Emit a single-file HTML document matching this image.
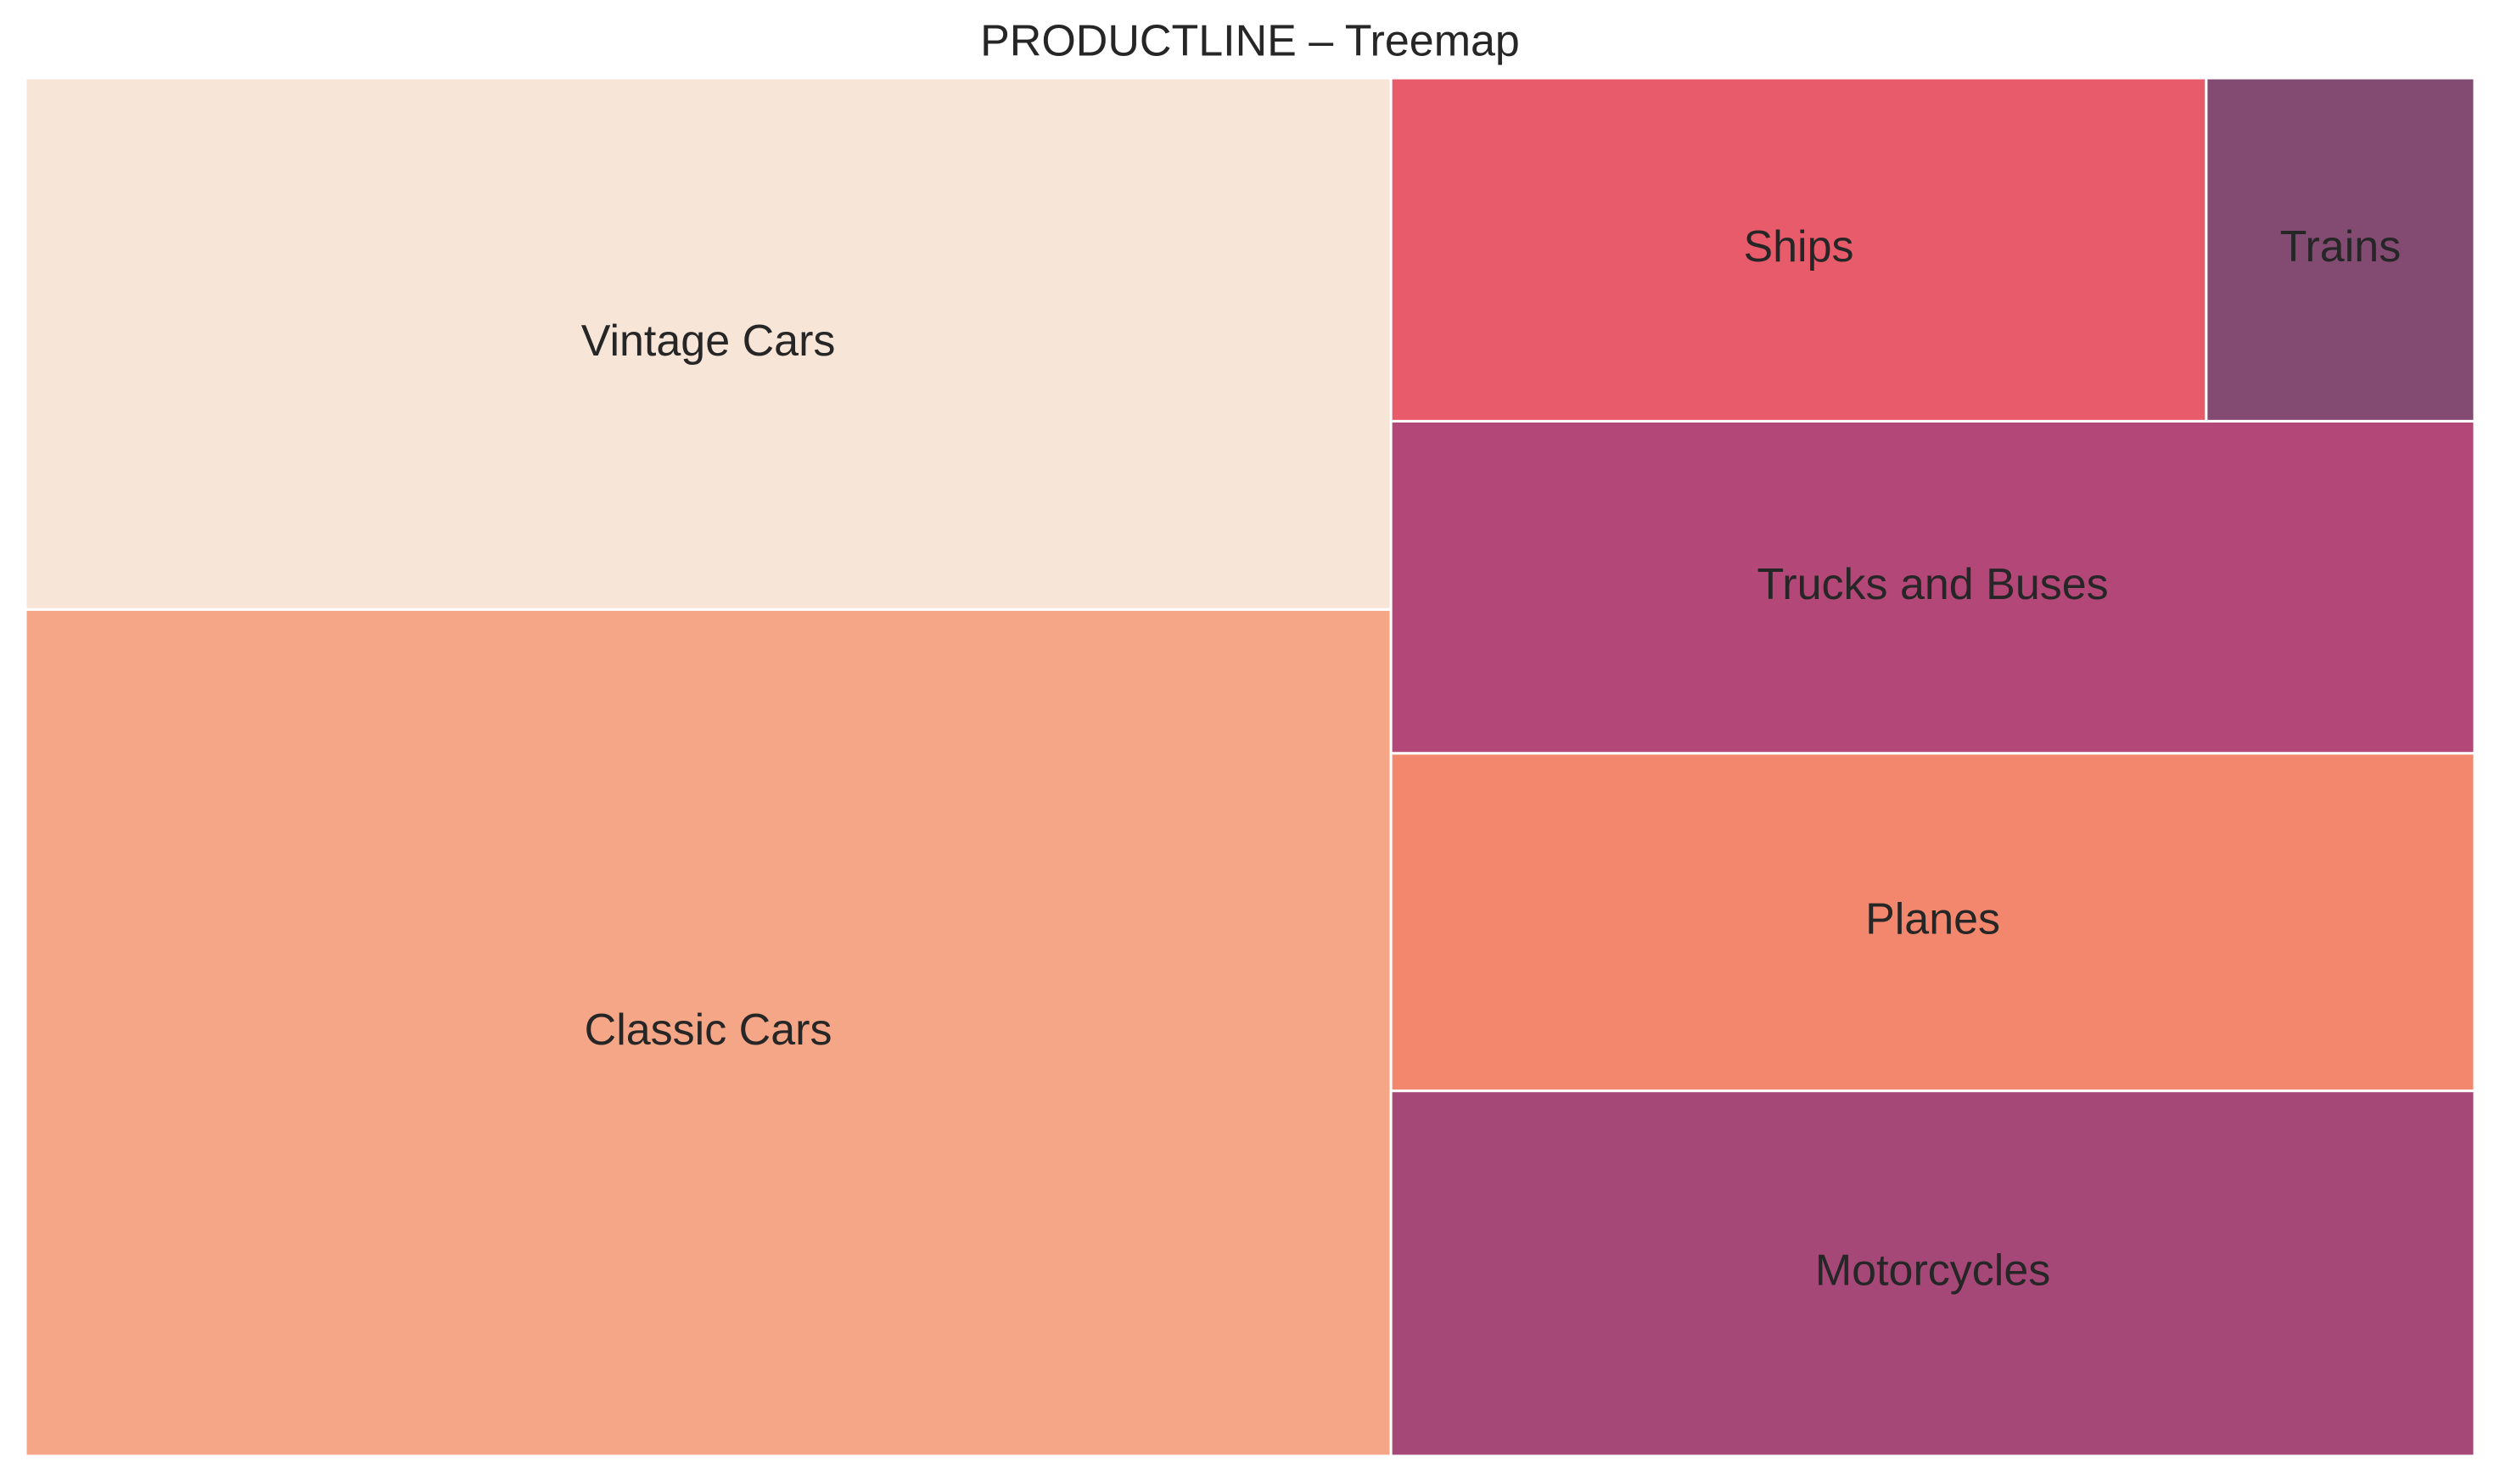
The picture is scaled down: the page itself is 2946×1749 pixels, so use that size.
<!DOCTYPE html>
<html><head><meta charset="utf-8"><style>
html,body{margin:0;padding:0;background:#fff}
svg{display:block}
text{font-family:"Liberation Sans",Arial,sans-serif;fill:#262626}
</style></head><body>
<svg id="chart" width="2946" height="1749" viewBox="0 0 2946 1749" xmlns="http://www.w3.org/2000/svg">
<text x="1473" y="52" font-size="52" text-anchor="middle" dominant-baseline="middle">PRODUCTLINE – Treemap</text>
<g id="tiles"></g>
</svg>
<script>
const categories = ["Classic Cars","Vintage Cars","Motorcycles","Planes","Trucks and Buses","Ships","Trains"];
const values = [967,607,331,306,301,234,77];
const colors = ["#f4a686","#f7e5d8","#a54877","#f3876d","#b34778","#e75b6a","#834b72"];

const X0=30, Y0=92, W=2886, H=1624;
const NX=100, NY=100;

function layoutRow(sizes,x,y,dx,dy){
  const s=sizes.reduce((a,b)=>a+b,0),out=[];
  if(dx>=dy){const w=s/dy;let cy=y;for(const v of sizes){const h=v/w;out.push({x:x,y:cy,dx:w,dy:h});cy+=h;}return {rects:out,rest:{x:x+w,y:y,dx:dx-w,dy:dy}};}
  else{const h=s/dx;let cx=x;for(const v of sizes){const w=v/h;out.push({x:cx,y:y,dx:w,dy:h});cx+=w;}return {rects:out,rest:{x:x,y:y+h,dx:dx,dy:dy-h}};}
}
function worstRatio(sizes,x,y,dx,dy){
  return Math.max(...layoutRow(sizes,x,y,dx,dy).rects.map(r=>Math.max(r.dx/r.dy,r.dy/r.dx)));
}
function squarify(sizes,x,y,dx,dy){
  if(!sizes.length)return[];
  if(sizes.length===1)return layoutRow(sizes,x,y,dx,dy).rects;
  let i=1;
  while(i<sizes.length&&worstRatio(sizes.slice(0,i),x,y,dx,dy)>=worstRatio(sizes.slice(0,i+1),x,y,dx,dy))i++;
  const r=layoutRow(sizes.slice(0,i),x,y,dx,dy);
  return r.rects.concat(squarify(sizes.slice(i),r.rest.x,r.rest.y,r.rest.dx,r.rest.dy));
}
const total=values.reduce((a,b)=>a+b,0);
const norm=values.map(v=>v*NX*NY/total);
const rects=squarify(norm,0,0,NX,NY);
const sx=W/NX, sy=H/NY;
const g=document.getElementById('tiles');
const NS="http://www.w3.org/2000/svg";
rects.forEach((r,i)=>{
  const px=X0+r.x*sx, py=Y0+(NY-r.y-r.dy)*sy, w=r.dx*sx, h=r.dy*sy;
  const rc=document.createElementNS(NS,'rect');
  rc.setAttribute('x',px);rc.setAttribute('y',py);rc.setAttribute('width',w);rc.setAttribute('height',h);
  rc.setAttribute('fill',colors[i]);rc.setAttribute('stroke','#fff');rc.setAttribute('stroke-width','3');
  
  
  g.appendChild(rc);
  const t=document.createElementNS(NS,'text');
  t.setAttribute('x',px+w/2);t.setAttribute('y',py+h/2);
  t.setAttribute('font-size','52');t.setAttribute('text-anchor','middle');t.setAttribute('dominant-baseline','middle');
  t.textContent=categories[i];
  
  
  g.appendChild(t);
});
</script>
</body></html>
